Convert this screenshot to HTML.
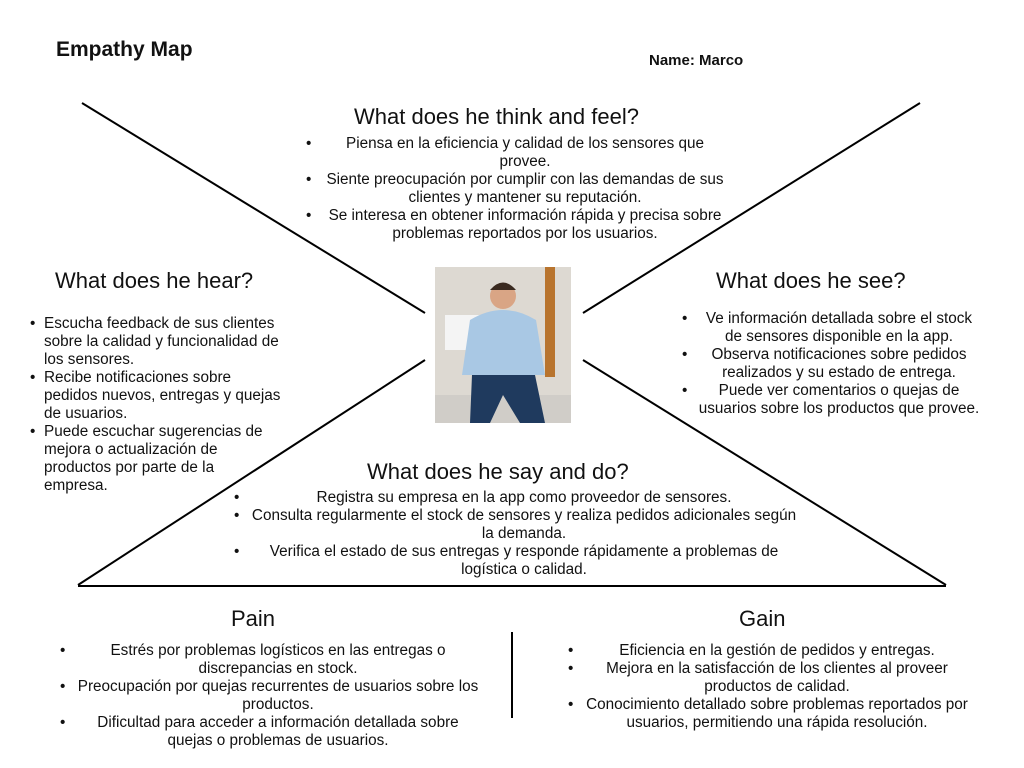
<!DOCTYPE html>
<html><head><meta charset="utf-8"><style>
body{margin:0;width:1024px;height:768px;background:#fff;position:relative;overflow:hidden;font-family:"Liberation Sans",sans-serif;color:#111}
.a{position:absolute}
h2{position:absolute;margin:0;font-weight:normal;font-size:22px;white-space:nowrap}
ul{position:absolute;margin:0;padding:0;list-style:none;font-size:15.3px;line-height:18px}
li{position:relative}
li:before{content:"•";position:absolute}
.c li{text-align:center}
</style></head><body>
<svg class="a" style="left:0;top:0" width="1024" height="768">
<g stroke="#000" stroke-width="2" fill="none">
<line x1="82" y1="103" x2="425" y2="313"/>
<line x1="920" y1="103" x2="583" y2="313"/>
<line x1="425" y1="360" x2="78" y2="585"/>
<line x1="583" y1="360" x2="946" y2="585"/>
<line x1="78" y1="586" x2="946" y2="586"/>
<line x1="512" y1="632" x2="512" y2="718"/>
</g>
<rect x="435" y="267" width="136" height="156" fill="#ddd9d2"/>
<rect x="545" y="267" width="10" height="110" fill="#b8742e"/>
<rect x="445" y="315" width="40" height="35" fill="#f4f4f4"/>
<rect x="435" y="395" width="136" height="28" fill="#d0cdc8"/>
<path d="M470 320 Q503 300 536 320 L545 375 L462 375 Z" fill="#a9c8e4"/>
<circle cx="503" cy="296" r="13" fill="#d9a585"/>
<path d="M490 290 Q503 275 516 290 Z" fill="#3a2a20"/>
<path d="M472 375 L535 375 L545 423 L520 423 L503 395 L490 423 L470 423 Z" fill="#1f3a5e"/>
</svg>
<div class="a" style="left:56px;top:38px;font-size:21px;font-weight:bold">Empathy Map</div>
<div class="a" style="left:649px;top:52px;font-size:15px;font-weight:bold">Name: Marco</div>

<h2 style="left:354px;top:104px">What does he think and feel?</h2>
<ul class="c" style="left:322px;top:135px;width:406px">
<li>Piensa en la eficiencia y calidad de los sensores que provee.</li>
<li>Siente preocupación por cumplir con las demandas de sus clientes y mantener su reputación.</li>
<li>Se interesa en obtener información rápida y precisa sobre problemas reportados por los usuarios.</li>
</ul>

<h2 style="left:55px;top:268px">What does he hear?</h2>
<ul class="l" style="left:44px;top:315px;width:238px">
<li>Escucha feedback de sus clientes sobre la calidad y funcionalidad de los sensores.</li>
<li>Recibe notificaciones sobre pedidos nuevos, entregas y quejas de usuarios.</li>
<li>Puede escuchar sugerencias de mejora o actualización de productos por parte de la empresa.</li>
</ul>

<h2 style="left:716px;top:268px">What does he see?</h2>
<ul class="c" style="left:698px;top:310px;width:282px">
<li>Ve información detallada sobre el stock de sensores disponible en la app.</li>
<li>Observa notificaciones sobre pedidos realizados y su estado de entrega.</li>
<li>Puede ver comentarios o quejas de usuarios sobre los productos que provee.</li>
</ul>

<h2 style="left:367px;top:459px">What does he say and do?</h2>
<ul class="c" style="left:250px;top:489px;width:548px">
<li>Registra su empresa en la app como proveedor de sensores.</li>
<li>Consulta regularmente el stock de sensores y realiza pedidos adicionales según la demanda.</li>
<li>Verifica el estado de sus entregas y responde rápidamente a problemas de logística o calidad.</li>
</ul>

<h2 style="left:231px;top:606px">Pain</h2>
<ul class="c" style="left:76px;top:642px;width:404px">
<li>Estrés por problemas logísticos en las entregas o discrepancias en stock.</li>
<li>Preocupación por quejas recurrentes de usuarios sobre los productos.</li>
<li>Dificultad para acceder a información detallada sobre quejas o problemas de usuarios.</li>
</ul>

<h2 style="left:739px;top:606px">Gain</h2>
<ul class="c" style="left:584px;top:642px;width:386px">
<li>Eficiencia en la gestión de pedidos y entregas.</li>
<li>Mejora en la satisfacción de los clientes al proveer productos de calidad.</li>
<li>Conocimiento detallado sobre problemas reportados por usuarios, permitiendo una rápida resolución.</li>
</ul>
<style>
ul li:before{left:-14px}
.c li:before{left:-16px}
</style>
</body></html>
